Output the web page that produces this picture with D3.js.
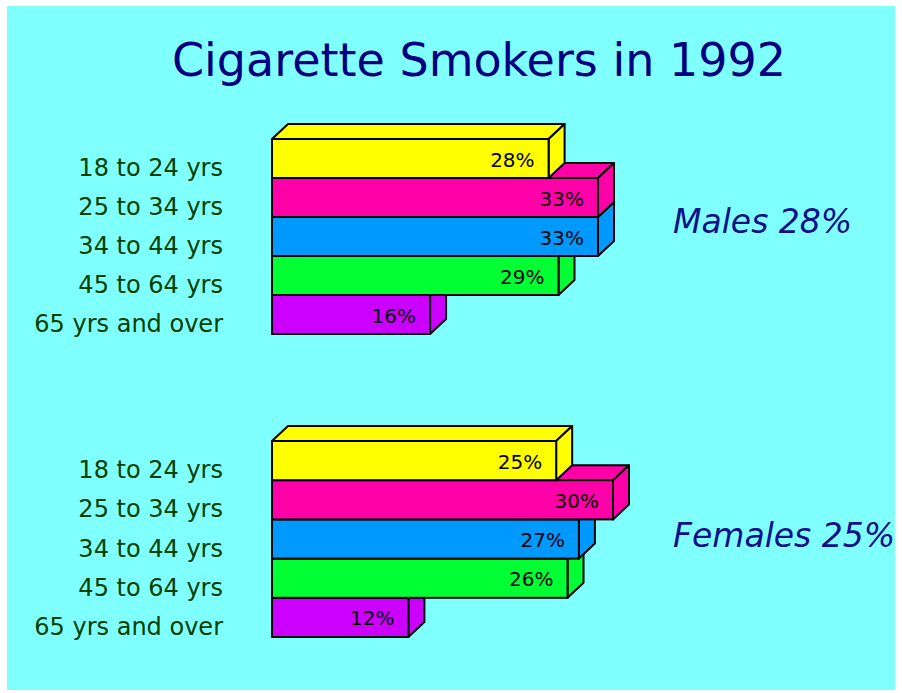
<!DOCTYPE html>
<html>
<head>
<meta charset="utf-8">
<script src="https://cdn.jsdelivr.net/npm/d3@7"></script>
<style>
  html, body { margin: 0; padding: 0; background: #ffffff; }
  svg { display: block; }
</style>
</head>
<body>
<svg id="chart" width="902" height="693"></svg>
<script>
// ---- data ----
const title = "Cigarette Smokers in 1992";
const ageGroups = ["18 to 24 yrs", "25 to 34 yrs", "34 to 44 yrs", "45 to 64 yrs", "65 yrs and over"];
const maleValues = [28, 33, 33, 29, 16];
const femaleValues = [25, 30, 27, 26, 12];
const panelLabels = ["Males 28%", "Females 25%"];
const barColors = ["#ffff00", "#ff00a8", "#0099ff", "#00ff33", "#cc00ff"];

// ---- layout ----
const svg = d3.select("#chart");
svg.append("rect").attr("x", 7).attr("y", 6).attr("width", 888).attr("height", 684).attr("fill", "#80ffff");

svg.append("text")
  .attr("x", 479).attr("y", 76)
  .attr("text-anchor", "middle")
  .attr("font-family", "DejaVu Sans")
  .attr("font-size", 46)
  .attr("fill", "#000080")
  .text(title);

const dx = 16, dy = 15;
const panels = [
  { values: maleValues, label: panelLabels[0], yRange: [139, 334], xRange: [272, 598], labelX: 673, labelY: 233 },
  { values: femaleValues, label: panelLabels[1], yRange: [441, 637], xRange: [272, 613], labelX: 673, labelY: 547 }
];

panels.forEach(p => {
  const g = svg.append("g");
  const y = d3.scaleBand().domain(ageGroups).range(p.yRange).paddingInner(0).paddingOuter(0);
  const x = d3.scaleLinear().domain([0, d3.max(p.values)]).range(p.xRange);
  const data = ageGroups.map((c, i) => ({ cat: c, v: p.values[i], color: barColors[i] }));

  // draw from bottom bar up so upper bars cover lower top faces
  const order = data.slice().reverse();
  order.forEach(d => {
    const x0 = x(0), x1 = x(d.v), y0 = y(d.cat), y1 = y(d.cat) + y.bandwidth();
    const bg = g.append("g");
    // top face
    bg.append("path")
      .attr("d", `M${x0},${y0}L${x0 + dx},${y0 - dy}L${x1 + dx},${y0 - dy}L${x1},${y0}Z`)
      .attr("fill", d.color).attr("stroke", "#000").attr("stroke-width", 2).attr("stroke-linejoin", "round");
    // side face
    bg.append("path")
      .attr("d", `M${x1},${y0}L${x1 + dx},${y0 - dy}L${x1 + dx},${y1 - dy}L${x1},${y1}Z`)
      .attr("fill", d.color).attr("stroke", "#000").attr("stroke-width", 2).attr("stroke-linejoin", "round");
    // front face
    bg.append("rect")
      .attr("x", x0).attr("y", y0).attr("width", x1 - x0).attr("height", y1 - y0)
      .attr("fill", d.color).attr("stroke", "#000").attr("stroke-width", 2);
    // value label
    bg.append("text")
      .attr("x", x1 - 14).attr("y", y0 + y.bandwidth() / 2 + 8)
      .attr("text-anchor", "end")
      .attr("font-family", "DejaVu Sans")
      .attr("font-size", 20)
      .attr("fill", "#000")
      .text(d.v + "%");
  });

  // category labels
  g.selectAll("text.cat").data(data).enter().append("text")
    .attr("class", "cat")
    .attr("x", 223)
    .attr("y", d => y(d.cat) + y.bandwidth() - 2)
    .attr("text-anchor", "end")
    .attr("font-family", "DejaVu Sans")
    .attr("font-size", 24)
    .attr("fill", "#004000")
    .text(d => d.cat);

  // panel label
  g.append("text")
    .attr("x", p.labelX).attr("y", p.labelY)
    .attr("font-family", "DejaVu Sans")
    .attr("font-style", "italic")
    .attr("font-size", 33)
    .attr("fill", "#10108a")
    .text(p.label);
});
</script>
</body>
</html>
